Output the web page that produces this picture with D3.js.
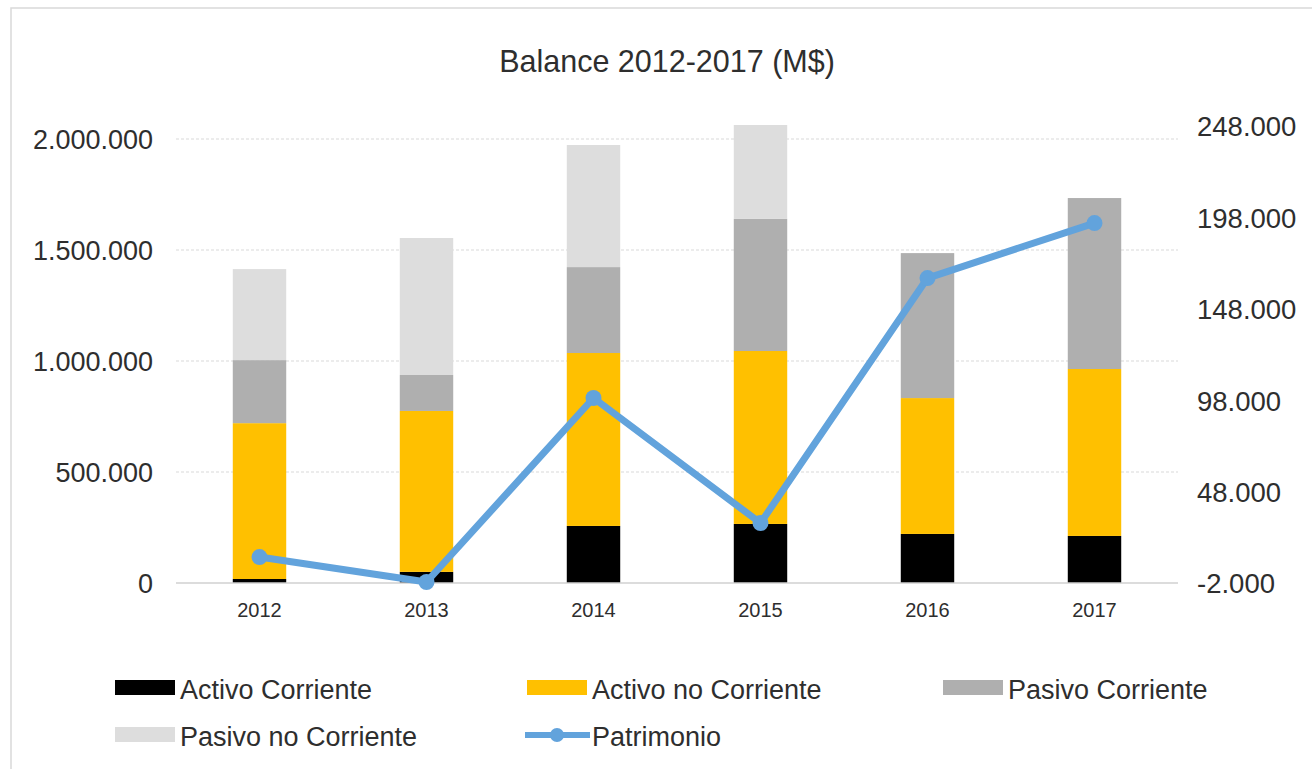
<!DOCTYPE html>
<html>
<head>
<meta charset="utf-8">
<script src="https://cdn.jsdelivr.net/npm/d3@7"></script>
<style>
  body { margin: 0; background: #fff; }
  svg { font-family: "Liberation Sans", Arial, sans-serif; }
  .grid line { stroke: #d9d9d9; stroke-width: 1.2; stroke-dasharray: 3,2; }
  .lbl { fill: #2e2e2e; }
</style>
</head>
<body>
<svg id="chart" width="1312" height="769"></svg>
<script>
// data (M$)
var years = ["2012", "2013", "2014", "2015", "2016", "2017"];
var activoCorriente   = [18000, 50000, 257000, 266000, 221000, 212000];
var activoNoCorriente = [702000, 725000, 779000, 779000, 612000, 752000];
var pasivoCorriente   = [284000, 162000, 387000, 595000, 653000, 770000];
var pasivoNoCorriente = [410000, 617000, 550000, 423000, 0, 0];
var patrimonio        = [12200, -1450, 99200, 30800, 164800, 194900];
var leftTicks  = [0, 500000, 1000000, 1500000, 2000000];
var rightTicks = [-2000, 48000, 98000, 148000, 198000, 248000];

var seriesNames  = ["Activo Corriente", "Activo no Corriente", "Pasivo Corriente", "Pasivo no Corriente"];
var seriesColors = ["#000000", "#ffc000", "#afafaf", "#dddddd"];
var lineColor = "#62a3dc";

var svg = d3.select("#chart");

var locale = d3.formatLocale({decimal: ",", thousands: ".", grouping: [3], currency: ["$", ""], minus: "-"});
var fmt = locale.format(",d");

var plotLeft = 176, plotRight = 1178, plotTop = 139, plotBottom = 583;

// outer frame
svg.append("rect")
    .attr("x", 11).attr("y", 8)
    .attr("width", 1400).attr("height", 900)
    .attr("fill", "none")
    .attr("stroke", "#d9d9d9")
    .attr("stroke-width", 1.5);

var x = d3.scaleBand()
    .domain(years)
    .range([plotLeft, plotRight])
    .paddingInner(0.68)
    .paddingOuter(0.34);

var y = d3.scaleLinear()
    .domain([0, 2000000])
    .range([plotBottom, plotTop]);

var y2 = d3.scaleLinear()
    .domain([-2000, 248000])
    .range([plotBottom, 126]);

// title
svg.append("text")
    .attr("class", "lbl")
    .attr("x", 667)
    .attr("y", 72)
    .attr("text-anchor", "middle")
    .style("font-size", "30.5px")
    .text("Balance 2012-2017 (M$)");

// gridlines
svg.append("g").attr("class", "grid")
    .selectAll("line").data(leftTicks.filter(function(d){ return d > 0; })).enter()
    .append("line")
    .attr("x1", plotLeft).attr("x2", plotRight)
    .attr("y1", function(d){ return y(d); })
    .attr("y2", function(d){ return y(d); });

// left axis
var gLeft = svg.append("g")
    .attr("transform", "translate(" + (plotLeft - 23) + ",0)")
    .call(d3.axisLeft(y).tickValues(leftTicks).tickFormat(fmt).tickSize(0).tickPadding(0));
gLeft.select(".domain").remove();
gLeft.selectAll("text").attr("class", "lbl").style("font-size", "27px").attr("dy", "0.36em");

// right axis
var gRight = svg.append("g")
    .attr("transform", "translate(" + (plotRight + 19) + ",0)")
    .call(d3.axisRight(y2).tickValues(rightTicks).tickFormat(fmt).tickSize(0).tickPadding(0));
gRight.select(".domain").remove();
gRight.selectAll("text").attr("class", "lbl").style("font-size", "27.5px").attr("dy", "0.36em");

// stacked bars
var table = years.map(function(yr, i){
    return {year: yr, s0: activoCorriente[i], s1: activoNoCorriente[i], s2: pasivoCorriente[i], s3: pasivoNoCorriente[i]};
});
var stack = d3.stack().keys(["s0", "s1", "s2", "s3"])(table);

svg.append("g").selectAll("g").data(stack).enter()
    .append("g")
    .attr("fill", function(d, i){ return seriesColors[i]; })
    .selectAll("rect").data(function(d){ return d; }).enter()
    .append("rect")
    .attr("x", function(d){ return x(d.data.year); })
    .attr("width", x.bandwidth())
    .attr("y", function(d){ return y(d[1]); })
    .attr("height", function(d){ return y(d[0]) - y(d[1]); });

// baseline
svg.append("line")
    .attr("x1", plotLeft).attr("x2", plotRight)
    .attr("y1", plotBottom).attr("y2", plotBottom)
    .attr("stroke", "#d0d0d0").attr("stroke-width", 1.5);

// x labels
var gX = svg.append("g")
    .attr("transform", "translate(0," + plotBottom + ")")
    .call(d3.axisBottom(x).tickSize(0).tickPadding(20));
gX.select(".domain").remove();
gX.selectAll("text").attr("class", "lbl").style("font-size", "20px");

// patrimonio line
var line = d3.line()
    .x(function(d, i){ return x(years[i]) + x.bandwidth()/2; })
    .y(function(d){ return y2(d); });

svg.append("path")
    .datum(patrimonio)
    .attr("d", line)
    .attr("fill", "none")
    .attr("stroke", lineColor)
    .attr("stroke-width", 7)
    .attr("stroke-linejoin", "round");

svg.append("g").selectAll("circle").data(patrimonio).enter()
    .append("circle")
    .attr("cx", function(d, i){ return x(years[i]) + x.bandwidth()/2; })
    .attr("cy", function(d){ return y2(d); })
    .attr("r", 8)
    .attr("fill", lineColor);

// legend
var legendPos = [[115, 680], [527, 680], [943, 680], [115, 727]];
var lg = svg.append("g");
seriesNames.forEach(function(name, i){
    var p = legendPos[i];
    lg.append("rect")
        .attr("x", p[0]).attr("y", p[1])
        .attr("width", 60).attr("height", 15)
        .attr("fill", seriesColors[i]);
    lg.append("text")
        .attr("class", "lbl")
        .attr("x", p[0] + 65).attr("y", p[1] + 19)
        .style("font-size", "27px")
        .text(name);
});
lg.append("line")
    .attr("x1", 525).attr("x2", 590)
    .attr("y1", 735).attr("y2", 735)
    .attr("stroke", lineColor).attr("stroke-width", 6);
lg.append("circle")
    .attr("cx", 557).attr("cy", 735).attr("r", 7)
    .attr("fill", lineColor);
lg.append("text")
    .attr("class", "lbl")
    .attr("x", 592).attr("y", 746)
    .style("font-size", "27px")
    .text("Patrimonio");
</script>
</body>
</html>
